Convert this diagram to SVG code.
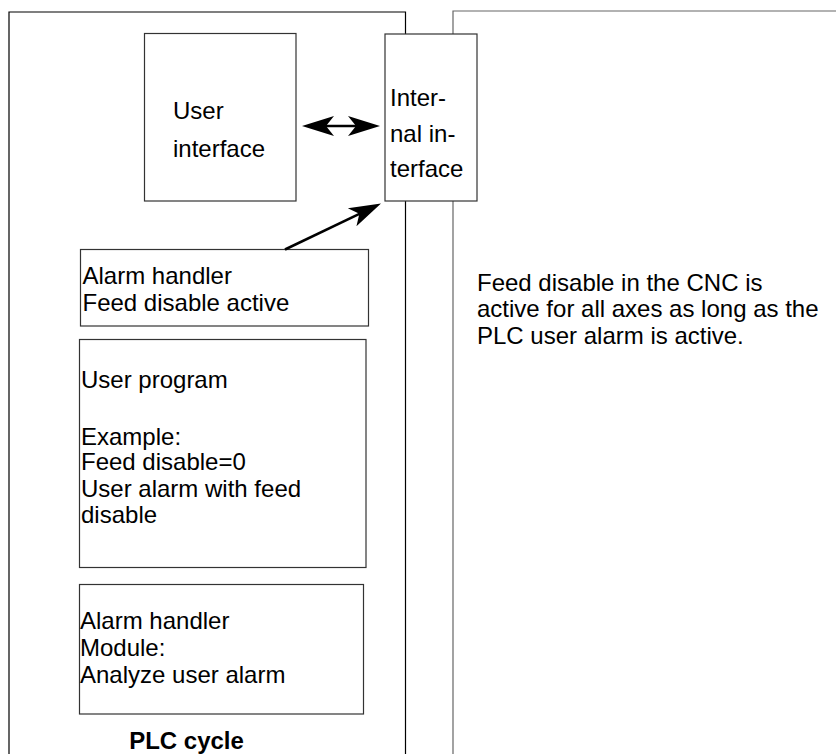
<svg xmlns="http://www.w3.org/2000/svg" width="836" height="754" viewBox="0 0 836 754">
<style>
text{font-family:"Liberation Sans",Arial,sans-serif;font-size:24px;fill:#000}
.box{fill:#fff;stroke:#333;stroke-width:1.2}
.panel{fill:none;stroke:#000;stroke-width:1.2}
.panel2{fill:none;stroke:#666;stroke-width:1.2}
.conn{stroke:#000;stroke-width:2.5;fill:none}
.bold{font-weight:bold}
</style>
<defs>
<path id="head" d="M0,0 L-32,-10 L-24,0 L-32,10 z" fill="#000"/>
</defs>
<g id="plc-panel">
<path class="panel" d="M9,760 V12 H405.5 V760"/>
<text class="bold" x="186.5" y="749" text-anchor="middle">PLC cycle</text>
</g>
<g id="cnc-panel">
<path class="panel2" d="M453,760 V11 H840"/>
<text x="477" y="290.5">Feed disable in the CNC is</text>
<text x="477" y="317">active for all axes as long as the</text>
<text x="477" y="343.5">PLC user alarm is active.</text>
</g>
<g id="user-interface">
<rect class="box" x="144.5" y="33.5" width="151.5" height="167.5"/>
<text x="173" y="119">User</text>
<text x="173" y="157">interface</text>
</g>
<g id="internal-interface">
<rect class="box" x="385" y="34" width="92" height="167"/>
<text x="390" y="106">Inter-</text>
<text x="390" y="141.5">nal in-</text>
<text x="390" y="176.5">terface</text>
</g>
<g id="alarm-handler-active">
<rect class="box" x="80.5" y="249.5" width="288" height="76.5"/>
<text x="82.5" y="284">Alarm handler</text>
<text x="82.5" y="311">Feed disable active</text>
</g>
<g id="user-program">
<rect class="box" x="79.5" y="339.5" width="286.5" height="228"/>
<text x="81" y="388">User program</text>
<text x="81" y="444.5">Example:</text>
<text x="81" y="470">Feed disable=0</text>
<text x="81" y="496.5">User alarm with feed</text>
<text x="81" y="523">disable</text>
</g>
<g id="alarm-handler-module">
<rect class="box" x="79.5" y="584.5" width="284" height="129.5"/>
<text x="80" y="629">Alarm handler</text>
<text x="80" y="656">Module:</text>
<text x="80" y="683">Analyze user alarm</text>
</g>
<g id="connectors">
<line class="conn" x1="320" y1="126" x2="362" y2="126"/>
<use href="#head" transform="translate(380,126)"/>
<use href="#head" transform="translate(302,126) rotate(180)"/>
<line class="conn" x1="285" y1="249.5" x2="362" y2="212.6"/>
<use href="#head" transform="translate(381,203.5) rotate(-25.6)"/>
</g>
</svg>
